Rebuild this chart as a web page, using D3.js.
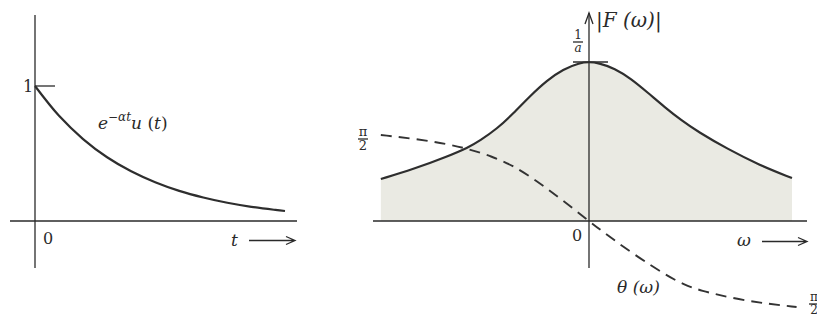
<!DOCTYPE html>
<html>
    <head>
        <style>
            body { margin: 0; background: white; }
            .axe { stroke: #2a2a2a; stroke-width: 1.3; fill: none; }
            .courbe { stroke: #2e2e2e; stroke-width: 2.2; fill: none; }
            .phase { stroke: #333; stroke-width: 1.9; fill: none; stroke-dasharray: 11 7; }
            .ombre { fill: #eaeae3; stroke: none; }
            text { fill: #2a2a2a; font-family: "DejaVu Serif", "Liberation Serif", serif; }
            .it { font-style: italic; }
        </style>
    </head>
    <body>
        <div id="plateau"></div>
        <script src="https://cdn.jsdelivr.net/npm/d3@7"></script>
        <script>

//////////////////// donnees ////////////////////
// gauche : e^{-at} u(t), a = 1
let t_vals   = [0, 0.25, 0.5, 0.75, 1, 1.25, 1.5, 1.75, 2, 2.25, 2.5, 2.6];
let exp_vals = [1, 0.779, 0.607, 0.472, 0.368, 0.287, 0.223, 0.174, 0.135, 0.105, 0.082, 0.074];

// droite : |F(w)|
let mod_w    = [-3.62, -3.06, -2.47, -2.1, -1.9, -1.6, -1.32, -1.03, -0.73, -0.45, -0.16, 0,
                 0.16, 0.45, 0.73, 1.03, 1.32, 1.6, 1.9, 2.4, 2.97, 3.53];
let mod_vals = [0.264, 0.325, 0.405, 0.462, 0.505, 0.58, 0.675, 0.785, 0.885, 0.955, 0.995, 1,
                0.995, 0.96, 0.895, 0.805, 0.715, 0.635, 0.56, 0.455, 0.35, 0.27];

// droite : theta(w)
let phi_w    = [-3.62, -3.0, -2.47, -2.1, -1.7, -1.32, -0.9, -0.5, 0,
                 0.19, 0.77, 1.36, 1.65, 1.93, 2.5, 3.09, 3.61];
let phi_vals = [1.30, 1.24, 1.165, 1.09, 0.98, 0.84, 0.6, 0.34, 0,
                -0.13, -0.50, -0.83, -0.96, -1.05, -1.17, -1.25, -1.30];

//////////////////// position ////////////////////
let W = 817, H = 326;

let svg = d3.select('#plateau').append('svg')
    .attr('width', W)
    .attr('height', H);

//////////////////// graphe gauche ////////////////////
let xT = d3.scaleLinear().domain([0, 2.6]).range([35, 285]);
let yT = d3.scaleLinear().domain([0, 1]).range([221, 86]);

let gauche = svg.append('g');

gauche.append('path').classed('axe', true)
    .attr('d', `M ${xT(0)} 15 L ${xT(0)} 268`);
gauche.append('path').classed('axe', true)
    .attr('d', `M 10 ${yT(0)} L 297 ${yT(0)}`);
// tick 1
gauche.append('path').classed('axe', true)
    .attr('d', `M ${xT(0)} ${yT(1)} L ${xT(0) + 20} ${yT(1)}`);

let ligneT = d3.line()
    .x(d => xT(d[0]))
    .y(d => yT(d[1]))
    .curve(d3.curveCatmullRom.alpha(0.5));

gauche.append('path').classed('courbe', true)
    .attr('d', ligneT(t_vals.map((t, i) => [t, exp_vals[i]])));

gauche.append('text').attr('x', 23).attr('y', 92).attr('font-size', 16).text('1');
gauche.append('text').attr('x', 43).attr('y', 244).attr('font-size', 16)
    .attr('font-family', 'DejaVu Sans').text('0');

let lbl = gauche.append('text').classed('it', true).attr('x', 98).attr('y', 129).attr('font-size', 17);
lbl.append('tspan').text('e');
lbl.append('tspan').attr('dy', -8).attr('font-size', 12).text('−αt');
lbl.append('tspan').attr('dy', 8).text('u');
lbl.append('tspan').attr('font-style', 'normal').text(' (');
lbl.append('tspan').text('t');
lbl.append('tspan').attr('font-style', 'normal').text(')');

gauche.append('text').classed('it', true).attr('x', 231).attr('y', 246).attr('font-size', 17).text('t');
gauche.append('path').classed('axe', true).attr('stroke-width', 1)
    .attr('d', 'M 249 240.5 L 294 240.5 M 286 236.5 L 295 240.5 L 286 244.5');

//////////////////// graphe droite ////////////////////
let xW = d3.scaleLinear().domain([-3.6, 3.6]).range([382, 796]);
let yM = d3.scaleLinear().domain([0, 1]).range([221, 62]);
let yP = d3.scaleLinear().domain([-1.3, 1.3]).range([307, 135]);

let droite = svg.append('g');

let aire = d3.area()
    .x(d => xW(d[0]))
    .y0(yM(0))
    .y1(d => yM(d[1]))
    .curve(d3.curveBasis);

let mod_pts = mod_w.map((w, i) => [w, mod_vals[i]]);
let phi_pts = phi_w.map((w, i) => [w, phi_vals[i]]);

droite.append('path').classed('ombre', true).attr('d', aire(mod_pts));

droite.append('path').classed('axe', true)
    .attr('d', `M 373 ${yM(0)} L 807 ${yM(0)}`);
droite.append('path').classed('axe', true)
    .attr('d', `M ${xW(0)} 13 L ${xW(0)} 268`);
// fleche
droite.append('path').classed('axe', true)
    .attr('d', `M ${xW(0) - 4} 24 L ${xW(0)} 13 L ${xW(0) + 4} 24`);
// tick 1/a
droite.append('path').classed('axe', true)
    .attr('d', `M ${xW(0) - 16} ${yM(1)} L ${xW(0) + 19} ${yM(1)}`);

let ligneM = d3.line()
    .x(d => xW(d[0]))
    .y(d => yM(d[1]))
    .curve(d3.curveBasis);
let ligneP = d3.line()
    .x(d => xW(d[0]))
    .y(d => yP(d[1]))
    .curve(d3.curveBasis);

droite.append('path').classed('courbe', true).attr('d', ligneM(mod_pts));
droite.append('path').classed('phase', true).attr('d', ligneP(phi_pts));

// fractions
function fraction(x, y, haut, bas, taille, italBas) {
    droite.append('text').attr('x', x).attr('y', y - 3).attr('font-size', taille)
        .attr('text-anchor', 'middle').text(haut);
    droite.append('path').classed('axe', true).attr('stroke-width', 1)
        .attr('d', `M ${x - 5} ${y} L ${x + 5} ${y}`);
    droite.append('text').attr('x', x).attr('y', y + taille - 2).attr('font-size', taille)
        .attr('text-anchor', 'middle').classed('it', italBas).text(bas);
}
fraction(578, 42, '1', 'a', 12, true);
fraction(363, 139, 'π', '2', 13, false);
fraction(814, 304, 'π', '2', 12, false);

droite.append('text').classed('it', true).attr('x', 596).attr('y', 27).attr('font-size', 20)
    .text('|F (ω)|');
droite.append('text').attr('x', 572).attr('y', 241).attr('font-size', 16)
    .attr('font-family', 'DejaVu Sans').text('0');
droite.append('text').classed('it', true).attr('x', 617).attr('y', 293).attr('font-size', 17)
    .text('θ (ω)');
droite.append('text').classed('it', true).attr('x', 737).attr('y', 246).attr('font-size', 17)
    .text('ω');
droite.append('path').classed('axe', true).attr('stroke-width', 1)
    .attr('d', 'M 762 241.5 L 806 241.5 M 798 237.5 L 807 241.5 L 798 245.5');

        </script>
    </body>
</html>
